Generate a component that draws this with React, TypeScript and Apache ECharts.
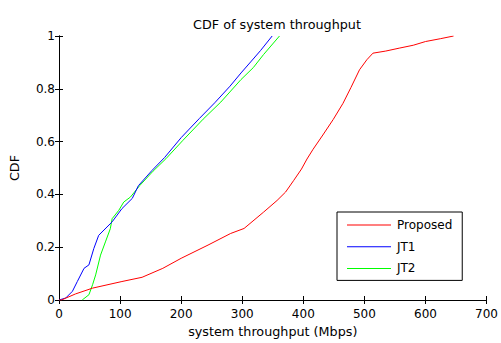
import React, { useEffect, useRef } from "react";
import * as echarts from "echarts";

const seriesNames = ["Proposed", "JT1", "JT2"];
const seriesColors = ["#ff0000", "#0000ff", "#00ff00"];

const proposedThroughput = [0, 4, 27, 55, 103, 136, 170, 200, 244, 281, 303, 335, 357, 371, 384, 397, 406, 416, 432, 449, 465, 478, 492, 504, 514, 535, 557, 580, 600, 625, 646];
const proposedCdf = [0, 0, 0.023, 0.045, 0.07, 0.086, 0.12, 0.158, 0.208, 0.252, 0.271, 0.333, 0.377, 0.409, 0.452, 0.496, 0.534, 0.571, 0.625, 0.684, 0.745, 0.805, 0.872, 0.91, 0.935, 0.943, 0.954, 0.965, 0.979, 0.99, 1];

const jt1Throughput = [0, 11, 22, 30, 41, 49, 57, 65, 87, 103, 120, 130, 152, 173, 200, 230, 255, 280, 298, 315, 330, 349];
const jt1Cdf = [0, 0.0075, 0.033, 0.07, 0.12, 0.133, 0.195, 0.245, 0.296, 0.346, 0.385, 0.433, 0.49, 0.54, 0.615, 0.688, 0.747, 0.81, 0.86, 0.905, 0.945, 1];

const jt2Throughput = [38, 49, 55, 60, 68, 76, 84, 87, 98, 106, 117, 132, 154, 175, 203, 236, 265, 298, 318, 335, 361];
const jt2Cdf = [0, 0.02, 0.058, 0.095, 0.17, 0.22, 0.27, 0.308, 0.34, 0.371, 0.39, 0.433, 0.488, 0.535, 0.605, 0.685, 0.75, 0.835, 0.88, 0.93, 1];

const xTicks = { min: 0, max: 700, interval: 100 };
const yTicks = { min: 0, max: 1, interval: 0.2 };

const FONT = "DejaVu Sans, Liberation Sans, Arial, sans-serif";
const FS = 12;
const FS_NAME = 12.75;

function pairs(xs: number[], ys: number[]) {
  return xs.map((x, i) => [x, ys[i]]);
}

export default function App() {
  const ref = useRef<HTMLDivElement>(null);
  useEffect(() => {
    if (!ref.current) return;
    const chart = echarts.init(ref.current, undefined, { renderer: "svg" });
    const axisLine = { show: true, lineStyle: { color: "#000", width: 1 } };
    const tick = { show: true, inside: true, length: 4, lineStyle: { color: "#000" } };
    const datasets = [
      pairs(proposedThroughput, proposedCdf),
      pairs(jt1Throughput, jt1Cdf),
      pairs(jt2Throughput, jt2Cdf),
    ];
    chart.setOption({
      animation: false,
      backgroundColor: "#fff",
      textStyle: { fontFamily: FONT },
      title: {
        text: "CDF of system throughput",
        left: 272,
        textAlign: "center",
        top: 13,
        textStyle: { fontFamily: FONT, fontSize: FS_NAME, fontWeight: "normal", color: "#000" },
      },
      grid: { left: 56, right: 13, top: 36, bottom: 41, containLabel: false },
      legend: {
        orient: "vertical",
        left: 337,
        top: 212,
        padding: [7, 10, 6, 10],
        itemWidth: 44,
        itemHeight: 12,
        itemGap: 9.7,
        icon: "path://M0,0 L44,0 L44,1 L0,1 Z",
        borderColor: "#000",
        borderWidth: 1,
        borderRadius: 0,
        backgroundColor: "#fff",
        textStyle: { fontFamily: FONT, fontSize: FS, color: "#000", padding: [0, 0, 0, 1] },
        data: seriesNames,
      },
      xAxis: [
        {
          type: "value",
          ...xTicks,
          name: "system throughput (Mbps)",
          nameLocation: "middle",
          nameGap: 25,
          nameTextStyle: { fontFamily: FONT, fontSize: FS_NAME, color: "#000" },
          axisLine,
          axisTick: tick,
          splitLine: { show: false },
          axisLabel: { color: "#000", fontFamily: FONT, fontSize: FS, margin: 8 },
        },
        {
          type: "value",
          position: "top",
          ...xTicks,
          axisLine,
          axisTick: tick,
          splitLine: { show: false },
          axisLabel: { show: false },
        },
      ],
      yAxis: [
        {
          type: "value",
          ...yTicks,
          name: "CDF",
          nameLocation: "middle",
          nameGap: 38,
          nameTextStyle: { fontFamily: FONT, fontSize: FS_NAME, color: "#000" },
          axisLine,
          axisTick: tick,
          splitLine: { show: false },
          axisLabel: { color: "#000", fontFamily: FONT, fontSize: FS, margin: 4 },
        },
        {
          type: "value",
          position: "right",
          ...yTicks,
          axisLine,
          axisTick: tick,
          splitLine: { show: false },
          axisLabel: { show: false },
        },
      ],
      series: seriesNames.map((name, i) => ({
        name,
        type: "line",
        data: datasets[i],
        symbol: "none",
        showSymbol: false,
        lineStyle: { color: seriesColors[i], width: 1 },
        itemStyle: { color: seriesColors[i] },
        z: 3 - i,
      })),
    });
    return () => chart.dispose();
  }, []);
  return <div ref={ref} style={{ width: 501, height: 343, position: "absolute", left: 0, top: 0 }} />;
}
